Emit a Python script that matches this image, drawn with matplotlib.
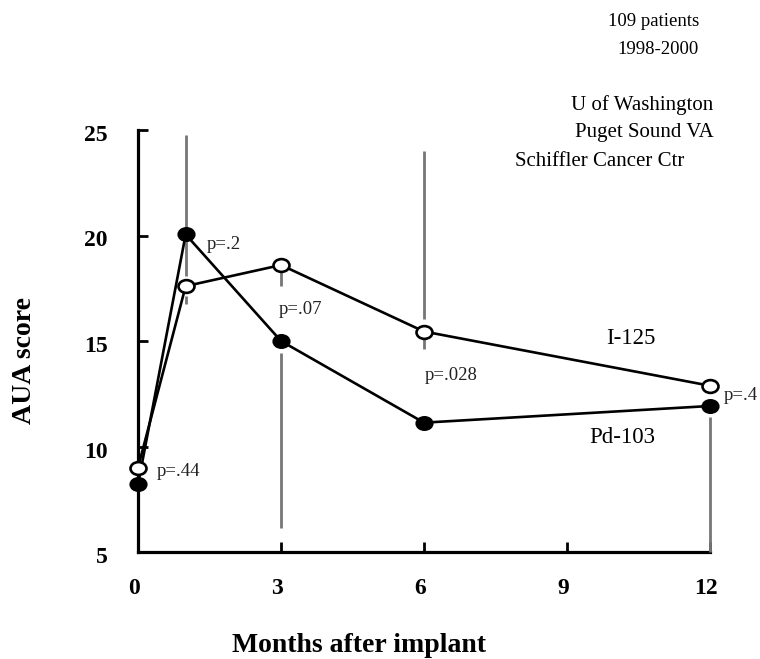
import matplotlib
matplotlib.use("Agg")
import matplotlib.pyplot as plt
from matplotlib.transforms import ScaledTranslation, Affine2D
from matplotlib.path import Path

# ---- data ----
months = [0, 1, 3, 6, 12]
pd103 = [8.2, 20.05, 15.0, 11.13, 11.92]
i125 = [9.0, 17.6, 18.6, 15.45, 12.88]

# visible error-bar segments (month, low, high)
err_x = [1, 1, 3, 3, 6, 6, 12]
err_lo = [18.1, 16.75, 17.6, 6.15, 16.05, 14.6, 5.0]
err_hi = [24.75, 17.15, 18.3, 14.45, 24.0, 15.1, 11.4]

p_labels = ["p=.44", "p=.2", "p=.07", "p=.028", "p=.4"]
p_x = [0.4, 1.45, 2.96, 6.02, 12.28]
p_y = [8.82, 19.57, 16.49, 13.35, 12.4]

x_ticks = [0, 3, 6, 9, 12]
y_ticks = [5, 10, 15, 20, 25]

notes_top = ["109 patients", "1998-2000"]
notes_inst = ["U of Washington", "Puget Sound VA"]

SERIF = ["Liberation Serif", "DejaVu Serif"]
plt.rcParams['font.family'] = SERIF

W, H = 760, 659
fig = plt.figure(figsize=(W / 100, H / 100), dpi=100)
ax = fig.add_axes([138 / W, 1 - 552 / H, (710 - 138) / W, (552 - 130) / H])

ax.set_xlim(0, 12)
ax.set_ylim(5, 25)

# slightly wide oval marker, as in the reference
oval = Affine2D().scale(1.25, 1.0).transform_path(Path.unit_circle())

# error bars
ax.vlines(err_x, err_lo, err_hi, colors="#767676", linewidth=2.0, zorder=2.6, clip_on=False)

# series
ax.plot(months, i125, color="black", linewidth=1.9, zorder=3, clip_on=False)
ax.plot(months, pd103, color="black", linewidth=1.9, zorder=3, clip_on=False)
ax.plot(months, i125, linestyle="none", marker=oval, markersize=11.5, markerfacecolor="white",
        markeredgecolor="black", markeredgewidth=1.9, zorder=4, clip_on=False)
ax.plot(months, pd103, linestyle="none", marker=oval, markersize=11.5, markerfacecolor="black",
        markeredgecolor="black", markeredgewidth=1.6, zorder=4, clip_on=False)

# spines / ticks
for s in ["top", "right"]:
    ax.spines[s].set_visible(False)
for s in ["left", "bottom"]:
    ax.spines[s].set_linewidth(2.3)
    ax.spines[s].set_zorder(2.5)

ax.set_xticks(x_ticks)
ax.set_yticks(y_ticks)
ax.set_xticklabels([str(v) for v in x_ticks])
ax.set_yticklabels([str(v) for v in y_ticks])
ax.tick_params(axis="both", direction="in", length=7, width=2.0, color="black")
ax.tick_params(axis="x", pad=19, labelsize=17)
ax.tick_params(axis="y", pad=22, labelsize=17)
for lab in ax.get_xticklabels() + ax.get_yticklabels():
    lab.set_fontweight("bold")
    lab.set_family(SERIF)
shift = ScaledTranslation(-4 / 100, 0, fig.dpi_scale_trans)
for lab in ax.get_xticklabels():
    lab.set_transform(lab.get_transform() + shift)
shift_y = ScaledTranslation(0, -3 / 100, fig.dpi_scale_trans)
for lab in ax.get_yticklabels():
    lab.set_transform(lab.get_transform() + shift_y)

# p-value labels
for t, x, y in zip(p_labels, p_x, p_y):
    ax.text(x, y, t, fontsize=13.5, ha="left", va="center", color="#222222", zorder=5)

# series labels
ax.text(10.85, 15.1, "I-125", fontsize=16.5, ha="right", va="center")
ax.text(10.85, 10.43, "Pd-103", fontsize=16.5, ha="right", va="center")

# axis titles
fig.text(359 / W, 1 - 645 / H, "Months after implant", fontsize=20, fontweight="bold",
         ha="center", va="center")
fig.text(25 / W, 1 - 361 / H, "AUA score", fontsize=20, fontweight="bold",
         ha="center", va="center", rotation=90)

# notes
fig.text(699 / W, 1 - 21.7 / H, notes_top[0], fontsize=13.5, ha="right", va="center")
fig.text(699 / W, 1 - 50 / H, notes_top[1], fontsize=13.5, ha="right", va="center")
fig.text(713 / W, 1 - 105 / H, notes_inst[0], fontsize=15, ha="right", va="center")
fig.text(714 / W, 1 - 133 / H, notes_inst[1], fontsize=15, ha="right", va="center")
fig.text(515 / W, 1 - 161.7 / H, "Schiffler Cancer Ctr", fontsize=15, ha="left", va="center")

fig.savefig("out.png", dpi=100, facecolor="white")
